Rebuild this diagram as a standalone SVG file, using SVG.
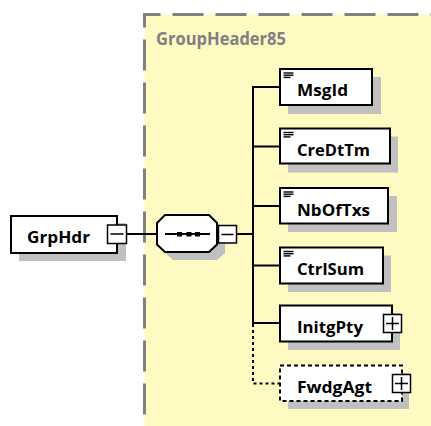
<svg xmlns="http://www.w3.org/2000/svg" width="431" height="426" viewBox="0 0 431 426">
<style>
.bg{fill:#FFFAC2;stroke:#808080;stroke-width:3;stroke-dasharray:31 12;stroke-dashoffset:15}
.title{font-family:"Open Sans","Liberation Sans",sans-serif;font-weight:bold;font-size:17.5px;fill:#808080}
.sh{fill:#C0C0C0;stroke:none}
.box{fill:#FFFFFF;stroke:#000;stroke-width:2}
.opt{fill:#FFFFFF;stroke:#000;stroke-width:2;stroke-dasharray:4 3}
.lbl{font-family:"Open Sans","Liberation Sans",sans-serif;font-weight:bold;font-size:16.5px;fill:#000}
.sq{fill:#FFFFFF;stroke:#000;stroke-width:1.5}
.ln{fill:none;stroke:#000;stroke-width:2}
.dot{fill:none;stroke:#000;stroke-width:2;stroke-dasharray:3 3}
.ic{stroke:#000;stroke-width:1.4}
</style>
<defs>
<g id="icon">
<line class="ic" x1="0" y1="0" x2="10" y2="0"/>
<line class="ic" x1="0" y1="2.2" x2="10" y2="2.2"/>
<line class="ic" x1="0" y1="4.4" x2="7" y2="4.4"/>
</g>
</defs>
<rect class="bg" x="144.5" y="14.5" width="300" height="430"/>
<text class="title" x="156" y="45" textLength="130" lengthAdjust="spacingAndGlyphs">GroupHeader85</text>

<g id="connectors">
<line class="ln" x1="127" y1="234" x2="157" y2="234"/>
<line class="ln" x1="237" y1="234" x2="253" y2="234"/>
<polyline class="ln" points="280,87 253,87 253,323 280,323"/>
<line class="ln" x1="253" y1="146.5" x2="280" y2="146.5"/>
<line class="ln" x1="253" y1="206" x2="280" y2="206"/>
<line class="ln" x1="253" y1="265.5" x2="280" y2="265.5"/>
<polyline class="dot" points="253,324 253,383.5 280,383.5"/>
</g>

<g id="GrpHdr">
<rect class="sh" x="19" y="223" width="107" height="38"/>
<rect class="box" x="11" y="216" width="106" height="37"/>
<text class="lbl" x="27" y="243" textLength="63" lengthAdjust="spacingAndGlyphs">GrpHdr</text>
<rect class="sq" x="107.5" y="225" width="19" height="18.5"/>
<line class="ln" x1="110.5" y1="234" x2="123.5" y2="234" style="stroke-width:1.5"/>
</g>

<g id="sequence">
<polygon class="sh" points="165,231 173,223 217,223 225,231 225,253 217,260 173,260 165,253"/>
<polygon class="box" points="157,223 165,215 209,215 217,223 217,244.5 209,252 165,252 157,244.5"/>
<line class="ln" x1="165" y1="234" x2="210" y2="234"/>
<rect x="177" y="232" width="5" height="4.5" fill="#000"/>
<rect x="186.5" y="232" width="5" height="4.5" fill="#000"/>
<rect x="195" y="232" width="5" height="4.5" fill="#000"/>
<rect class="sq" x="218.5" y="225.5" width="18" height="17.5"/>
<line class="ln" x1="221.5" y1="234.5" x2="233.5" y2="234.5" style="stroke-width:1.5"/>
</g>

<g id="MsgId">
<rect class="sh" x="288" y="77" width="93" height="37"/>
<rect class="box" x="280" y="69" width="92" height="36"/>
<use href="#icon" x="283.5" y="73"/>
<text class="lbl" x="297" y="96" textLength="51" lengthAdjust="spacingAndGlyphs">MsgId</text>
</g>

<g id="CreDtTm">
<rect class="sh" x="288" y="136.5" width="110" height="36"/>
<rect class="box" x="280" y="128.5" width="110" height="35"/>
<use href="#icon" x="283.5" y="132.5"/>
<text class="lbl" x="297" y="156" textLength="73" lengthAdjust="spacingAndGlyphs">CreDtTm</text>
</g>

<g id="NbOfTxs">
<rect class="sh" x="288" y="196" width="109" height="36"/>
<rect class="box" x="280" y="188" width="108" height="35.5"/>
<use href="#icon" x="283.5" y="192"/>
<text class="lbl" x="297" y="215.5" textLength="73" lengthAdjust="spacingAndGlyphs">NbOfTxs</text>
</g>

<g id="CtrlSum">
<rect class="sh" x="288" y="255.5" width="103" height="36.5"/>
<rect class="box" x="280" y="247.5" width="103" height="36"/>
<use href="#icon" x="283.5" y="251.5"/>
<text class="lbl" x="297" y="275" textLength="67" lengthAdjust="spacingAndGlyphs">CtrlSum</text>
</g>

<g id="InitgPty">
<rect class="sh" x="288" y="313" width="112" height="37"/>
<rect class="box" x="280" y="305.5" width="112" height="36"/>
<text class="lbl" x="297" y="333" textLength="66" lengthAdjust="spacingAndGlyphs">InitgPty</text>
<rect class="sq" x="383.5" y="314.5" width="18" height="18"/>
<line class="ln" x1="386" y1="323.5" x2="399" y2="323.5" style="stroke-width:1.5"/>
<line class="ln" x1="392.5" y1="317" x2="392.5" y2="330" style="stroke-width:1.5"/>
</g>

<g id="FwdgAgt">
<rect class="sh" x="288" y="373" width="121" height="36"/>
<rect class="opt" x="280" y="365.5" width="122" height="35.5"/>
<text class="lbl" x="297" y="393" textLength="75" lengthAdjust="spacingAndGlyphs">FwdgAgt</text>
<rect class="sq" x="392.5" y="374.5" width="18" height="18"/>
<line class="ln" x1="395" y1="383.5" x2="408" y2="383.5" style="stroke-width:1.5"/>
<line class="ln" x1="401.5" y1="377" x2="401.5" y2="390" style="stroke-width:1.5"/>
</g>
</svg>
